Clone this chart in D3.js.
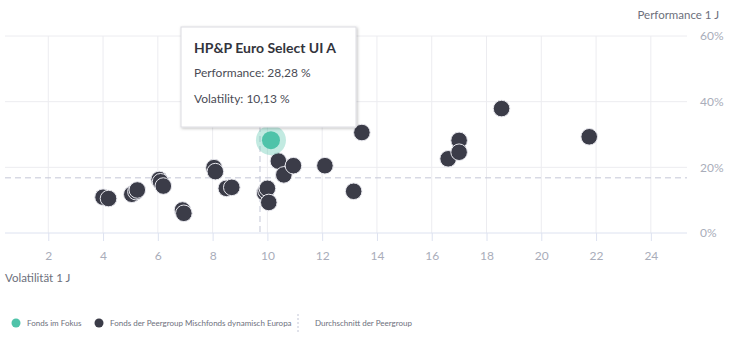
<!DOCTYPE html>
<html>
<head>
<meta charset="utf-8">
<title>Performance vs Volatilität</title>
<script src="https://cdn.jsdelivr.net/npm/d3@7"></script>
<style>
body { margin: 0; background: #fff; }
text { font-family: Lato, "Open Sans", sans-serif; }
.tick-label { fill: #a9adba; font-size: 12px; }
.axis-title { fill: #6d707c; font-size: 11.5px; }
.legend-txt { fill: #6d707c; font-size: 8px; }
</style>
</head>
<body>
<script>
// peer group funds: volatility (x, %) and performance (y, %)
var peerVol  = [4.0, 4.2, 5.05, 5.2, 5.25, 6.05, 6.1, 6.2, 6.9, 6.95, 8.05, 8.1, 8.5, 8.7,
                9.9, 9.95, 10.0, 10.05, 10.4, 10.6, 10.95, 12.1, 13.15, 13.45, 16.6, 17.0, 17.0, 18.55, 21.75];
var peerPerf = [10.9, 10.5, 11.8, 12.6, 13.1, 16.3, 15.6, 14.3, 7.0, 6.0, 19.9, 18.7, 13.6, 13.9,
                12.2, 12.9, 13.6, 9.3, 21.9, 17.7, 20.5, 20.5, 12.7, 30.6, 22.6, 28.2, 24.6, 37.9, 29.3];
var focusName = "HP&P Euro Select UI A";
var focusVol = 10.13, focusPerf = 28.28;
var avgVol = 9.73, avgPerf = 16.8;
var xTicks = [2, 4, 6, 8, 10, 12, 14, 16, 18, 20, 22, 24];
var yTicks = [0, 20, 40, 60];

var w = 734, h = 353;
var svg = d3.select("body").append("svg").attr("width", w).attr("height", h);

var pLeft = 5, pRight = 687, pTop = 36, pBottom = 233;
var x = d3.scaleLinear().domain([0.42, 25.32]).range([pLeft, pRight]);
var y = d3.scaleLinear().domain([0, 60]).range([pBottom, pTop]);

// grid
svg.append("g").selectAll("line").data(yTicks.filter(function(d){ return d > 0; })).enter().append("line")
  .attr("x1", pLeft).attr("x2", pRight)
  .attr("y1", function(d){ return y(d); }).attr("y2", function(d){ return y(d); })
  .attr("stroke", "#ececf0").attr("stroke-width", 1);
svg.append("g").selectAll("line").data(xTicks).enter().append("line")
  .attr("x1", function(d){ return x(d); }).attr("x2", function(d){ return x(d); })
  .attr("y1", pTop).attr("y2", pBottom)
  .attr("stroke", "#ececf0").attr("stroke-width", 1);

// x axis
var xAxis = svg.append("g").attr("transform", "translate(0," + pBottom + ")")
  .call(d3.axisBottom(x).tickValues(xTicks).tickSize(8).tickPadding(10).tickFormat(d3.format("d")));
xAxis.select(".domain").attr("stroke", "#dde2f0").attr("d", "M" + pLeft + ",0H" + pRight);
xAxis.selectAll(".tick line").attr("stroke", "#dde2f0");
xAxis.attr("font-family", null).attr("font-size", null);
xAxis.selectAll(".tick text").attr("class", "tick-label").attr("fill", null);

// y axis labels (right)
svg.append("g").selectAll("text").data(yTicks).enter().append("text")
  .attr("class", "tick-label")
  .attr("x", 700).attr("y", function(d){ return y(d); }).attr("dy", "0.35em")
  .text(function(d){ return d + "%"; });

svg.append("text").attr("class", "axis-title").attr("x", 719).attr("y", 19)
  .attr("text-anchor", "end").text("Performance 1 J");
svg.append("text").attr("class", "axis-title").attr("x", 5).attr("y", 282)
  .text("Volatilität 1 J");

// average lines
svg.append("line").attr("x1", pLeft).attr("x2", pRight)
  .attr("y1", y(avgPerf)).attr("y2", y(avgPerf))
  .attr("stroke", "#c3c6d6").attr("stroke-dasharray", "6,4");
svg.append("line").attr("x1", x(avgVol)).attr("x2", x(avgVol))
  .attr("y1", pTop).attr("y2", pBottom)
  .attr("stroke", "#c3c6d6").attr("stroke-dasharray", "6,4");

// peer points
var peers = peerVol.map(function(v, i){ return {vol: v, perf: peerPerf[i]}; });
svg.append("g").selectAll("circle").data(peers).enter().append("circle")
  .attr("cx", function(d){ return x(d.vol); })
  .attr("cy", function(d){ return y(d.perf); })
  .attr("r", 8.3)
  .attr("fill", "#3b3c48")
  .attr("stroke", "#e8e8ee").attr("stroke-width", 1);

// focus point
svg.append("circle").attr("cx", x(focusVol)).attr("cy", y(focusPerf)).attr("r", 15)
  .attr("fill", "#4fc3a9").attr("opacity", 0.35);
svg.append("circle").attr("cx", x(focusVol)).attr("cy", y(focusPerf)).attr("r", 9)
  .attr("fill", "#4fc3a9");

// tooltip
var defs = svg.append("defs");
var f = defs.append("filter").attr("id", "shadow").attr("x", "-10%").attr("y", "-10%").attr("width", "120%").attr("height", "130%");
f.append("feDropShadow").attr("dx", 1).attr("dy", 1).attr("stdDeviation", 1.5).attr("flood-color", "#000").attr("flood-opacity", 0.25);
var tip = svg.append("g").attr("transform", "translate(181,27)");
tip.append("rect").attr("width", 175).attr("height", 100).attr("fill", "#fff")
  .attr("stroke", "#dcdce2").attr("filter", "url(#shadow)");
tip.append("text").attr("x", 13).attr("y", 26).attr("font-size", "14px").attr("font-weight", "bold")
  .attr("fill", "#33343c").text(focusName);
tip.append("text").attr("x", 13).attr("y", 50).attr("font-size", "12px").attr("fill", "#4a4b55")
  .text("Performance: " + d3.format(".2f")(focusPerf).replace(".", ",") + " %");
tip.append("text").attr("x", 13).attr("y", 76).attr("font-size", "12px").attr("fill", "#4a4b55")
  .text("Volatility: " + d3.format(".2f")(focusVol).replace(".", ",") + " %");

// legend
var lg = svg.append("g").attr("transform", "translate(0,323)");
lg.append("circle").attr("cx", 16).attr("cy", 0).attr("r", 4.5).attr("fill", "#4fc3a9");
lg.append("text").attr("class", "legend-txt").attr("x", 27).attr("y", 0).attr("dy", "0.35em").text("Fonds im Fokus");
lg.append("circle").attr("cx", 99).attr("cy", 0).attr("r", 4.5).attr("fill", "#3b3c48");
lg.append("text").attr("class", "legend-txt").attr("x", 110).attr("y", 0).attr("dy", "0.35em").text("Fonds der Peergroup Mischfonds dynamisch Europa");
lg.append("line").attr("x1", 298).attr("x2", 298).attr("y1", -9).attr("y2", 10)
  .attr("stroke", "#c3c6d6").attr("stroke-dasharray", "2,2");
lg.append("text").attr("class", "legend-txt").attr("x", 315).attr("y", 0).attr("dy", "0.35em").text("Durchschnitt der Peergroup");
</script>
</body>
</html>
